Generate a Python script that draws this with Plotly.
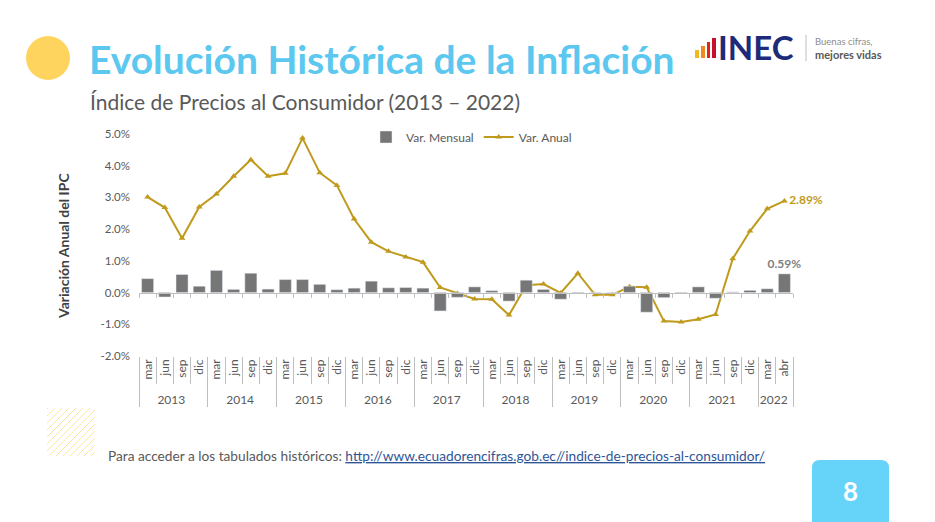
import plotly.graph_objects as go

# --- datos ---
anos = ['2013', '2013', '2013', '2013', '2014', '2014', '2014', '2014',
        '2015', '2015', '2015', '2015', '2016', '2016', '2016', '2016',
        '2017', '2017', '2017', '2017', '2018', '2018', '2018', '2018',
        '2019', '2019', '2019', '2019', '2020', '2020', '2020', '2020',
        '2021', '2021', '2021', '2021', '2022', '2022']
meses = ['mar', 'jun', 'sep', 'dic', 'mar', 'jun', 'sep', 'dic',
         'mar', 'jun', 'sep', 'dic', 'mar', 'jun', 'sep', 'dic',
         'mar', 'jun', 'sep', 'dic', 'mar', 'jun', 'sep', 'dic',
         'mar', 'jun', 'sep', 'dic', 'mar', 'jun', 'sep', 'dic',
         'mar', 'jun', 'sep', 'dic', 'mar', 'abr']
var_anual = [3.01, 2.68, 1.71, 2.70, 3.11, 3.67, 4.19, 3.67,
             3.76, 4.87, 3.78, 3.38, 2.32, 1.59, 1.30, 1.12,
             0.96, 0.16, -0.03, -0.20, -0.21, -0.71, 0.23, 0.27,
             -0.01, 0.61, -0.07, -0.07, 0.18, 0.17, -0.90, -0.93,
             -0.84, -0.69, 1.07, 1.94, 2.64, 2.89]
var_mensual = [0.44, -0.14, 0.57, 0.20, 0.70, 0.10, 0.61, 0.11,
               0.41, 0.41, 0.26, 0.09, 0.14, 0.36, 0.15, 0.16,
               0.14, -0.58, -0.15, 0.18, 0.06, -0.27, 0.39, 0.10,
               -0.21, -0.04, -0.01, -0.01, 0.20, -0.62, -0.16, -0.03,
               0.18, -0.18, 0.02, 0.07, 0.12, 0.59]
y_ticks = [-2, -1, 0, 1, 2, 3, 4, 5]
y_ticktext = ['-2.0%', '-1.0%', '0.0%', '1.0%', '2.0%', '3.0%', '4.0%', '5.0%']

Y_MIN, Y_MAX = -2, 5

# colores
GRIS = '#767676'
ORO = '#BF9A1C'
TXT = '#595959'
CELESTE = '#5CC8F0'

# geometría: el navegador deja 8px de margen en el body
OFF = 8
W_PX, H_PX = 935, 522
L, R, T, B = 139 - OFF, 935 - 793 + OFF, 134 - OFF, 522 - 356 + OFF
PW = W_PX - L - R
PH = H_PX - T - B


def fx(x):
    return (x - OFF - L) / PW


def fy(y):
    return (H_PX - B - (y - OFF)) / PH


FONT = 'Lato'

etiq_anual = [''] * (len(var_anual) - 1) + [f'{var_anual[-1]:.2f}%']
etiq_mensual = [''] * (len(var_mensual) - 1) + [f'{var_mensual[-1]:.2f}%']

fig = go.Figure()

fig.add_trace(go.Bar(
    x=[anos, meses], y=var_mensual, name='Var. Mensual',
    marker_color=GRIS, xaxis='x2',
    text=etiq_mensual, textposition='outside', cliponaxis=False,
    constraintext='none',
    textfont=dict(color='#7F7F7F', size=12, family=FONT, weight='bold'),
))
fig.add_trace(go.Scatter(
    x=[anos, meses], y=var_anual, name='Var. Anual',
    mode='lines+markers+text',
    line=dict(color=ORO, width=2),
    marker=dict(symbol='triangle-up', size=6, color=ORO),
    text=etiq_anual, textposition='middle right', cliponaxis=False,
    textfont=dict(color=ORO, size=12, family=FONT, weight='bold'),
))

shapes = []

# círculo amarillo del título
shapes.append(dict(type='circle', xref='paper', yref='paper',
                   x0=fx(26), x1=fx(70), y0=fy(80), y1=fy(36),
                   fillcolor='#FFD45E', line_width=0, layer='above'))

# logo INEC: barritas
for x0, x1, top, col in [(695, 699, 50, '#F3B81B'), (701, 705, 46, '#F18A1F'),
                         (707, 710, 42, '#E2231A'), (712, 716, 38, '#C8102E')]:
    shapes.append(dict(type='rect', xref='paper', yref='paper',
                       x0=fx(x0), x1=fx(x1), y0=fy(58), y1=fy(top),
                       fillcolor=col, line_width=0))
shapes.append(dict(type='line', xref='paper', yref='paper',
                   x0=fx(806), x1=fx(806), y0=fy(61), y1=fy(35),
                   line=dict(color='#BFBFBF', width=1)))

# trama amarilla inferior izquierda
for c in range(-44, 48, 7):
    u0, u1 = max(0, -c), min(48, 48 - c)
    shapes.append(dict(type='line', xref='paper', yref='paper',
                       x0=fx(47 + u0), y0=fy(456 - (u0 + c)),
                       x1=fx(47 + u1), y1=fy(456 - (u1 + c)),
                       line=dict(color='#FBE7A1', width=1)))

# recuadro del número de página
x0, x1, y0, y1 = fx(812), fx(889), fy(460), fy(540)
rx, ry = 8 / PW, 8 / PH
shapes.append(dict(
    type='path', xref='paper', yref='paper',
    path=(f'M {x0},{y1} L {x0},{y0 - ry} Q {x0},{y0} {x0 + rx},{y0} '
          f'L {x1 - rx},{y0} Q {x1},{y0} {x1},{y0 - ry} L {x1},{y1} Z'),
    fillcolor='#66D3F8', line_width=0))

annotations = [
    dict(text='<b>Evolución Histórica de la Inflación</b>', x=fx(87), y=fy(59),
         xanchor='left', yanchor='middle',
         font=dict(family=FONT, size=39, color=CELESTE)),
    dict(text='Índice de Precios al Consumidor (2013 – 2022)', x=fx(88), y=fy(102),
         xanchor='left', yanchor='middle',
         font=dict(family=FONT, size=21, color=TXT)),
    dict(text='<b>INEC</b>', x=fx(716), y=fy(47), xanchor='left', yanchor='middle',
         font=dict(family=FONT, size=33, color='#1E2B78')),
    dict(text=('<span style="color:#8C8C8C;font-size:9.5px">Buenas cifras,</span><br>'
               '<b>mejores vidas</b>'),
         x=fx(813), y=fy(49), xanchor='left', yanchor='middle', align='left',
         font=dict(family=FONT, size=11, color=TXT)),
    dict(text='<b>Variación Anual del IPC</b>', x=fx(63), y=fy(246), textangle=-90,
         xanchor='center', yanchor='middle',
         font=dict(family=FONT, size=14, color='#404040')),
    dict(text=('Para acceder a los tabulados históricos: '
               '<a href="http://www.ecuadorencifras.gob.ec//indice-de-precios-al-consumidor/" '
               'style="color:#2F5597;text-decoration:underline">'
               'http://www.ecuadorencifras.gob.ec//indice-de-precios-al-consumidor/</a>'),
         x=fx(106), y=fy(455), xanchor='left', yanchor='middle',
         font=dict(family=FONT, size=13.7, color=TXT)),
    dict(text='<b>8</b>', x=fx(850), y=fy(491), xanchor='center', yanchor='middle',
         font=dict(family=FONT, size=26, color='white')),
]
for a in annotations:
    a.update(xref='paper', yref='paper', showarrow=False)

fig.update_layout(
    width=W_PX, height=H_PX,
    margin=dict(l=L, r=R, t=T, b=B, autoexpand=False),
    paper_bgcolor='white', plot_bgcolor='white',
    font=dict(family=FONT, color=TXT),
    bargap=0.3,
    showlegend=True,
    legend=dict(orientation='h', x=fx(366), y=fy(137), xanchor='left', yanchor='middle',
                font=dict(size=12, color=TXT), bgcolor='rgba(0,0,0,0)',
                itemwidth=30, tracegroupgap=0),
    xaxis=dict(type='multicategory', range=[-0.5, len(meses) - 0.5],
               tickangle=-90, ticks='outside', tickson='boundaries',
               ticklen=27, tickcolor='#BFBFBF', showdividers=True,
               dividercolor='#BFBFBF', dividerwidth=1, showline=False,
               showgrid=False, tickfont=dict(size=12, color=TXT)),
    xaxis2=dict(type='multicategory', overlaying='x', matches='x', anchor='free',
                position=(0 - Y_MIN) / (Y_MAX - Y_MIN),
                showline=True, linecolor='#BFBFBF', linewidth=1,
                ticks='outside', tickson='boundaries', ticklen=4, tickcolor='#BFBFBF',
                showticklabels=False, showdividers=False, showgrid=False),
    yaxis=dict(range=[Y_MIN, Y_MAX], tickvals=y_ticks, ticktext=y_ticktext,
               showgrid=False, zeroline=False, showline=False,
               ticklabelstandoff=8, tickfont=dict(size=11.5, color=TXT)),
    shapes=shapes,
    annotations=annotations,
)

fig.write_html('out.html')
